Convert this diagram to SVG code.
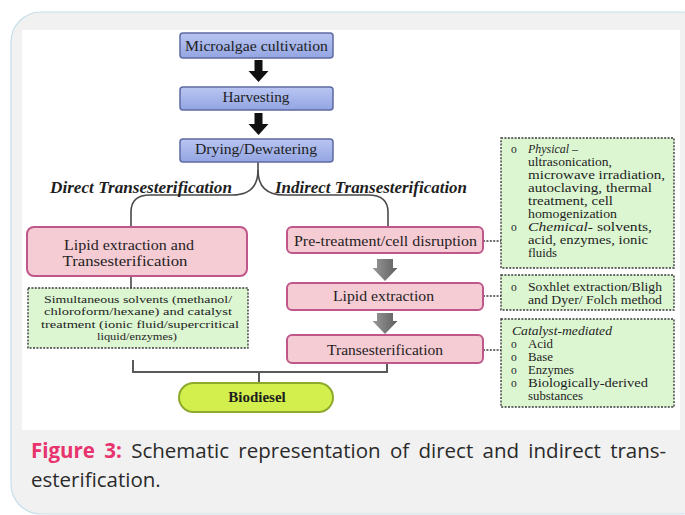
<svg xmlns="http://www.w3.org/2000/svg" width="685" height="515" viewBox="0 0 685 515">
<defs>
<linearGradient id="gBlue" x1="0" y1="0" x2="0" y2="1"><stop offset="0" stop-color="#b9c5f2"/><stop offset="1" stop-color="#93a5e2"/></linearGradient>
<linearGradient id="gGray" x1="0" y1="0" x2="1" y2="0"><stop offset="0" stop-color="#9a9a9a"/><stop offset="0.5" stop-color="#7c7c7c"/><stop offset="1" stop-color="#5e5e5e"/></linearGradient>
<style>
.blue{fill:url(#gBlue);stroke:#5d6aa3;stroke-width:1.5}
.pink{fill:#f5cbd4;stroke:#c0578a;stroke-width:2}
.green{fill:#dcf6d2;stroke:#3a3a3a;stroke-width:1.4;stroke-dasharray:2 1.4}
.t{font-family:"Liberation Serif","Times New Roman",serif;fill:#1e1e1e;text-anchor:middle}
.m{font-size:15px}
.s{font-size:11.5px;text-anchor:start}
.ls{font-size:11px}
.it{font-style:italic}
.conn{fill:none;stroke:#4a4a4a;stroke-width:1.6}
.dot{fill:none;stroke:#3a3a3a;stroke-width:1.4;stroke-dasharray:2 1.4}
.cap{font-family:"Open Sans","Noto Sans",sans-serif;font-size:20.5px;fill:#2a2a2a}
</style>
</defs>
<rect x="11" y="12" width="700" height="502" rx="30" fill="#f1f1f1" stroke="#c6dfec" stroke-width="1.2"/>
<rect x="22" y="30" width="658" height="400" fill="#ffffff"/>

<g id="connectors">
<path d="M254.5,60 h8 v11 h6 l-10,11 l-10,-11 h6 z" fill="#111"/>
<path d="M254.5,113 h8 v11 h6 l-10,11 l-10,-11 h6 z" fill="#111"/>
<path class="conn" d="M258,162 V170 C258,186 250,195 232,195 H150 C138,195 131,200 131,212 V227"/>
<path class="conn" d="M258,170 C258,186 266,195 284,195 H368 C381,195 388,200 388,212 V227"/>
<path class="conn" d="M131,276 V288"/>
<path d="M377,259 h16 v9 h4.5 l-12.5,13 l-12.5,-13 h4.5 z" fill="url(#gGray)"/>
<path d="M377,313 h16 v8 h4.5 l-12.5,13 l-12.5,-13 h4.5 z" fill="url(#gGray)"/>
<path class="dot" d="M483,241 H501 M483,296 H501 M483,350 H501"/>
<path d="M133,360 V372 H387 V363 M259,372 V383" fill="none" stroke="#5a5a5a" stroke-width="2"/>
</g>

<g id="n-cultivation"><rect class="blue" x="180" y="33" width="153" height="25" rx="3"/><text class="t m" x="256.5" y="51" textLength="143" lengthAdjust="spacingAndGlyphs">Microalgae cultivation</text></g>
<g id="n-harvesting"><rect class="blue" x="180" y="87" width="153" height="23" rx="3"/><text class="t m" x="256" y="102" textLength="67" lengthAdjust="spacingAndGlyphs">Harvesting</text></g>
<g id="n-drying"><rect class="blue" x="180" y="139" width="153" height="23" rx="3"/><text class="t m" x="256" y="154" textLength="122" lengthAdjust="spacingAndGlyphs">Drying/Dewatering</text></g>

<g id="l-direct"><text class="t it" x="141" y="193" font-size="16" font-weight="bold" fill="#333" textLength="182" lengthAdjust="spacingAndGlyphs">Direct Transesterification</text></g>
<g id="l-indirect"><text class="t it" x="371" y="193" font-size="16" font-weight="bold" fill="#333" textLength="192" lengthAdjust="spacingAndGlyphs">Indirect Transesterification</text></g>

<g id="n-direct"><rect class="pink" x="27" y="227" width="220" height="49" rx="7"/>
<text class="t m" x="129" y="250" textLength="130" lengthAdjust="spacingAndGlyphs">Lipid extraction and</text>
<text class="t m" x="125" y="266" textLength="125" lengthAdjust="spacingAndGlyphs">Transesterification</text></g>

<g id="n-simul"><rect class="green" x="28" y="288" width="220" height="60"/>
<text class="t ls" x="138" y="303" textLength="188" lengthAdjust="spacingAndGlyphs">Simultaneous solvents (methanol/</text>
<text class="t ls" x="138" y="315.3" textLength="188" lengthAdjust="spacingAndGlyphs">chloroform/hexane) and catalyst</text>
<text class="t ls" x="140" y="327.6" textLength="198" lengthAdjust="spacingAndGlyphs">treatment (ionic fluid/supercritical</text>
<text class="t ls" x="137" y="339.9" textLength="80" lengthAdjust="spacingAndGlyphs">liquid/enzymes)</text></g>

<g id="n-pretreat"><rect class="pink" x="287" y="227" width="196" height="26" rx="5"/><text class="t m" x="385.5" y="246" textLength="183" lengthAdjust="spacingAndGlyphs">Pre-treatment/cell disruption</text></g>
<g id="n-lipid"><rect class="pink" x="287" y="283" width="196" height="27" rx="5"/><text class="t m" x="383.5" y="301" textLength="101" lengthAdjust="spacingAndGlyphs">Lipid extraction</text></g>
<g id="n-trans"><rect class="pink" x="287" y="335" width="196" height="28" rx="5"/><text class="t m" x="385" y="355" textLength="116" lengthAdjust="spacingAndGlyphs">Transesterification</text></g>

<g id="n-biodiesel"><rect x="179" y="383" width="154" height="29" rx="14.5" fill="#d2ef4e" stroke="#8eaa2c" stroke-width="2"/><text class="t" x="257" y="402" font-size="15" font-weight="bold" fill="#111">Biodiesel</text></g>

<g id="n-physical"><rect class="green" x="501" y="138" width="173" height="130"/>
<text class="t s" x="511" y="153">o</text><text class="t s it" x="528" y="153" textLength="50" lengthAdjust="spacingAndGlyphs">Physical –</text>
<text class="t s" x="528" y="166" textLength="84" lengthAdjust="spacingAndGlyphs">ultrasonication,</text>
<text class="t s" x="528" y="179" textLength="137" lengthAdjust="spacingAndGlyphs">microwave irradiation,</text>
<text class="t s" x="528" y="192" textLength="124" lengthAdjust="spacingAndGlyphs">autoclaving, thermal</text>
<text class="t s" x="528" y="205" textLength="85" lengthAdjust="spacingAndGlyphs">treatment, cell</text>
<text class="t s" x="528" y="218" textLength="89" lengthAdjust="spacingAndGlyphs">homogenization</text>
<text class="t s" x="511" y="231">o</text><text class="t s" x="528" y="231" textLength="124" lengthAdjust="spacingAndGlyphs"><tspan font-style="italic">Chemical-</tspan> solvents,</text>
<text class="t s" x="528" y="244" textLength="120" lengthAdjust="spacingAndGlyphs">acid, enzymes, ionic</text>
<text class="t s" x="528" y="257" textLength="29" lengthAdjust="spacingAndGlyphs">fluids</text></g>

<g id="n-soxhlet"><rect class="green" x="501" y="275" width="173" height="35"/>
<text class="t s" x="511" y="291">o</text><text class="t s" x="528" y="291" textLength="134" lengthAdjust="spacingAndGlyphs">Soxhlet extraction/Bligh</text>
<text class="t s" x="528" y="304" textLength="134" lengthAdjust="spacingAndGlyphs">and Dyer/ Folch method</text></g>

<g id="n-catalyst"><rect class="green" x="501" y="319" width="173" height="88"/>
<text class="t s it" x="512" y="335" textLength="100" lengthAdjust="spacingAndGlyphs">Catalyst-mediated</text>
<text class="t s" x="511" y="348">o</text><text class="t s" x="528" y="348" textLength="25" lengthAdjust="spacingAndGlyphs">Acid</text>
<text class="t s" x="511" y="361">o</text><text class="t s" x="528" y="361" textLength="25" lengthAdjust="spacingAndGlyphs">Base</text>
<text class="t s" x="511" y="374">o</text><text class="t s" x="528" y="374" textLength="46" lengthAdjust="spacingAndGlyphs">Enzymes</text>
<text class="t s" x="511" y="387">o</text><text class="t s" x="528" y="387" textLength="120" lengthAdjust="spacingAndGlyphs">Biologically-derived</text>
<text class="t s" x="528" y="400" textLength="55" lengthAdjust="spacingAndGlyphs">substances</text></g>

<g id="caption">
<text class="cap" x="31" y="458" word-spacing="4"><tspan font-weight="bold" fill="#e8336e">Figure 3:</tspan> Schematic representation of direct and indirect trans-</text>
<text class="cap" x="31" y="487">esterification.</text>
</g>
</svg>
